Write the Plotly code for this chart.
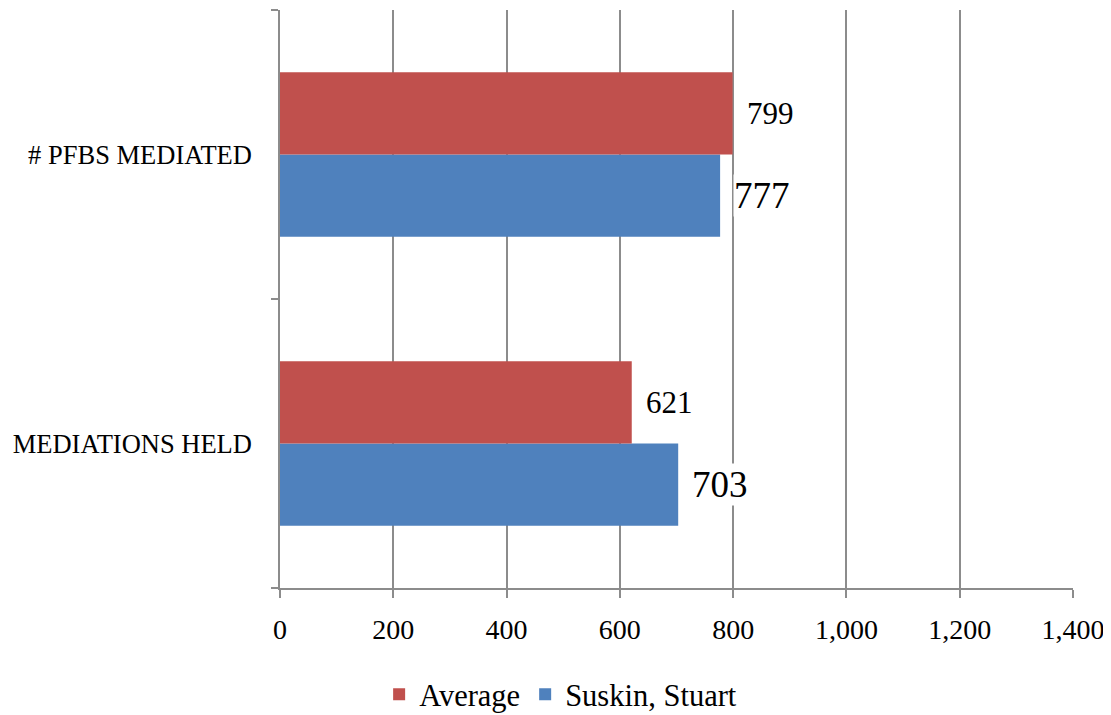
import plotly.graph_objects as go

categories = ["MEDIATIONS HELD", "# PFBS MEDIATED"]
average = [621, 799]
suskin = [703, 777]

RED = "#C0504D"
BLUE = "#4F81BD"
FONT = "Liberation Serif"

fig = go.Figure()
# first trace is drawn lowest in each group, so Suskin goes first
fig.add_trace(go.Bar(y=categories, x=suskin, orientation="h", name="Suskin, Stuart",
                     marker=dict(color=BLUE, line=dict(width=0))))
fig.add_trace(go.Bar(y=categories, x=average, orientation="h", name="Average",
                     marker=dict(color=RED, line=dict(width=0))))

# value labels with white background (they cut the gridlines like in the original)
for cat, v in zip(categories, average):
    fig.add_annotation(x=v, y=cat, text=str(v), showarrow=False, xanchor="left",
                       xshift=13, yshift=41, bgcolor="white", borderpad=0,
                       font=dict(family=FONT, size=31, color="black"))
for cat, v in zip(categories, suskin):
    fig.add_annotation(x=v, y=cat, text=str(v), showarrow=False, xanchor="left",
                       xshift=13, yshift=-41, bgcolor="white", borderpad=0,
                       font=dict(family=FONT, size=37, color="black"))

# page body has an 8px margin, so the figure is shifted by that amount
fig.update_layout(
    width=1111, height=715,
    margin=dict(l=272, r=46, t=2, b=133),
    plot_bgcolor="white", paper_bgcolor="white",
    barmode="group", bargap=0.43, bargroupgap=0,
    font=dict(family=FONT, color="black"),
    showlegend=True,
    legend=dict(orientation="h", x=0.125, xanchor="left", y=-0.184, yanchor="middle",
                traceorder="reversed", font=dict(family=FONT, size=30.5)),
    xaxis=dict(range=[0, 1400], dtick=200, tickformat=",", showgrid=True,
               gridcolor="#8c8c8c", gridwidth=1.5, zeroline=False,
               showline=True, linecolor="#8c8c8c", linewidth=1.5,
               ticks="outside", ticklen=8, tickcolor="#8c8c8c", tickwidth=1.5,
               tickfont=dict(family=FONT, size=28), ticklabelstandoff=8),
    yaxis=dict(categoryorder="array", categoryarray=categories, showgrid=False,
               showline=True, linecolor="#8c8c8c", linewidth=1.5,
               ticks="outside", tickson="boundaries", ticklen=7, tickcolor="#8c8c8c", tickwidth=1.5,
               tickfont=dict(family=FONT, size=26.5), ticklabelstandoff=21),
)

fig.write_html("out.html")
